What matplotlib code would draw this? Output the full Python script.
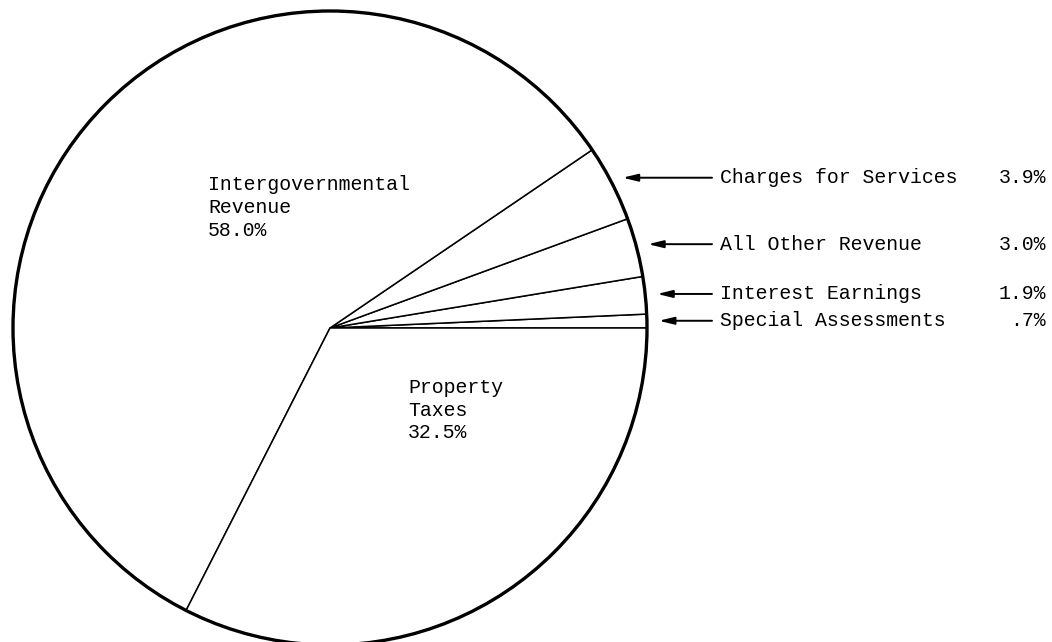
import numpy as np
import matplotlib
matplotlib.use('Agg')
import matplotlib.pyplot as plt

# slices in counterclockwise order starting from 3 o'clock
labels = ['Special Assessments', 'Interest Earnings', 'All Other Revenue',
          'Charges for Services', 'Intergovernmental\nRevenue', 'Property\nTaxes']
shares = [0.7, 1.9, 3.0, 3.9, 58.0, 32.5]
pct_text = ['.7%', '1.9%', '3.0%', '3.9%', '58.0%', '32.5%']

plt.rcParams['font.family'] = ['Liberation Mono', 'DejaVu Sans Mono']

W, H = 1052, 642
fig = plt.figure(figsize=(W / 100, H / 100), dpi=100)
ax = fig.add_axes([0, 0, 1, 1])
ax.set_xlim(0, W)
ax.set_ylim(0, H)
ax.set_aspect('equal')
ax.axis('off')

cx, cy, r = 330, 314, 317
wedges, _ = ax.pie(shares, startangle=0, counterclock=True, center=(cx, cy),
                   radius=r, colors=['white'] * len(shares),
                   wedgeprops={'edgecolor': 'black', 'linewidth': 1.1})
ax.set_xlim(0, W)
ax.set_ylim(0, H)
ax.add_patch(plt.Circle((cx, cy), r, fill=False, lw=2.4, color='black'))

fs = 14.3
# small slices: labels outside with arrows
for i in range(4):
    w = wedges[i]
    mid = np.deg2rad((w.theta1 + w.theta2) / 2)
    tip = (cx + (r + 12) * np.cos(mid), cy + (r + 12) * np.sin(mid))
    ax.annotate('', xy=tip, xytext=(712, tip[1]),
                arrowprops=dict(arrowstyle='-|>,head_length=0.9,head_width=0.22',
                                lw=1.4, color='black', shrinkA=0, shrinkB=0))
    ax.text(720, tip[1], labels[i], fontsize=fs, va='center', ha='left')
    ax.text(1046, tip[1], pct_text[i], fontsize=fs, va='center', ha='right')

# big slices: labels inside
ax.text(208, H - 175, labels[4] + '\n' + pct_text[4], fontsize=fs,
        va='top', ha='left', linespacing=1.25)
ax.text(408, H - 378, labels[5] + '\n' + pct_text[5], fontsize=fs,
        va='top', ha='left', linespacing=1.25)

fig.savefig('out.png', dpi=100, facecolor='white')
